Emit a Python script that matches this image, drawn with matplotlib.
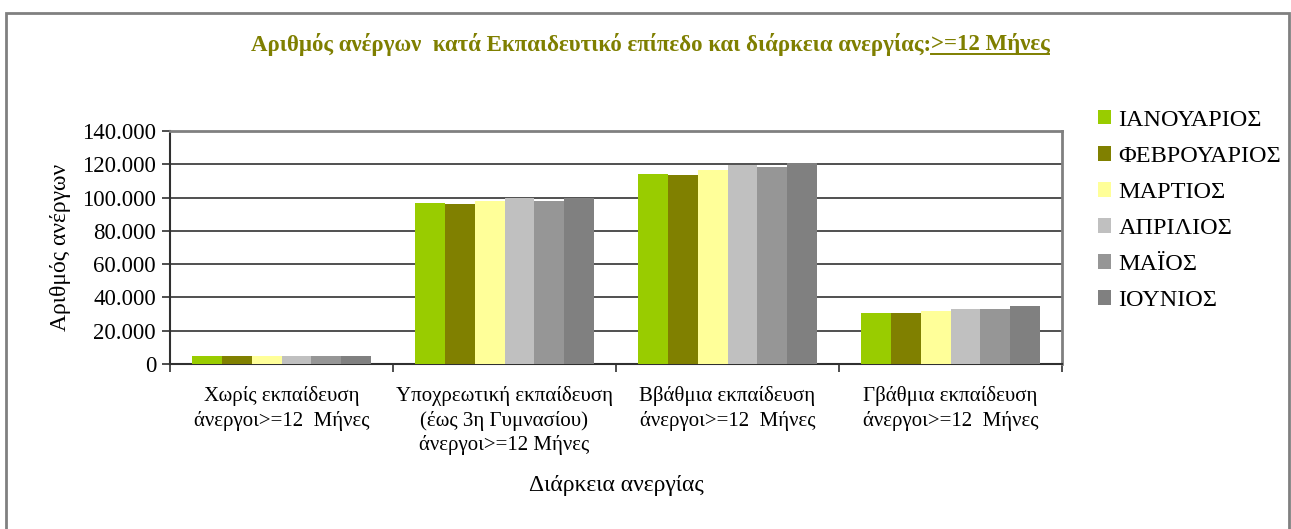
import numpy as np
import matplotlib
matplotlib.use('Agg')
import matplotlib.pyplot as plt
from matplotlib.patches import Rectangle
from matplotlib.lines import Line2D

plt.rcParams['font.family'] = ['Liberation Serif', 'DejaVu Serif']

# data
categories = [
    'Χωρίς εκπαίδευση\nάνεργοι>=12  Μήνες',
    'Υποχρεωτική εκπαίδευση\n(έως 3η Γυμνασίου)\nάνεργοι>=12 Μήνες',
    'Ββάθμια εκπαίδευση\nάνεργοι>=12  Μήνες',
    'Γβάθμια εκπαίδευση\nάνεργοι>=12  Μήνες',
]
months = ['ΙΑΝΟΥΑΡΙΟΣ', 'ΦΕΒΡΟΥΑΡΙΟΣ', 'ΜΑΡΤΙΟΣ', 'ΑΠΡΙΛΙΟΣ', 'ΜΑΪΟΣ', 'ΙΟΥΝΙΟΣ']
ianouarios = [5000, 96700, 114000, 30800]
fevrouarios = [5000, 96100, 113400, 30800]
martios = [5000, 97900, 116400, 32000]
aprilios = [5000, 99500, 119600, 33200]
maios = [5000, 97900, 118200, 33200]
iounios = [5000, 100000, 121000, 35000]
colors = ['#99CC00', '#808000', '#FFFF99', '#C0C0C0', '#969696', '#808080']
yticks = [0, 20000, 40000, 60000, 80000, 100000, 120000, 140000]
ytick_labels = ['0', '20.000', '40.000', '60.000', '80.000', '100.000', '120.000', '140.000']

series = [ianouarios, fevrouarios, martios, aprilios, maios, iounios]

W, H = 1291, 529
fig = plt.figure(figsize=(W / 100, H / 100), dpi=100)
fig.patch.set_facecolor('white')

# outer frame
fig.add_artist(Rectangle((6 / W, -0.01), 1283 / W, 1 - 13 / H + 0.01,
                         transform=fig.transFigure, fill=False,
                         edgecolor='#808080', lw=2))

ax = fig.add_axes([170 / W, 1 - 364 / H, 892 / W, 233 / H])

x = np.arange(len(categories))
bw = 0.8 / len(series)
for i, (vals, name) in enumerate(zip(series, months)):
    ax.bar(x - 0.4 + bw * (i + 0.5), vals, width=bw, color=colors[i],
           label=name, zorder=3)

ax.set_xlim(-0.5, len(categories) - 0.5)
ax.set_ylim(0, 140000)
ax.set_yticks(yticks)
ax.set_yticklabels(ytick_labels, fontsize=16.5)
ax.yaxis.grid(True, color='#202020', lw=1.1, zorder=1)
ax.set_axisbelow(True)

ax.set_xticks(x)
ax.set_xticklabels(categories, fontsize=15, linespacing=1.3)
ax.tick_params(axis='x', length=0, pad=16)
ax.tick_params(axis='y', length=6, width=1.2, color='#303030', pad=4)
ax.set_xticks(np.arange(len(categories) + 1) - 0.5, minor=True)
ax.tick_params(axis='x', which='minor', length=6, width=1.2, color='#303030')

for side in ['top', 'right']:
    ax.spines[side].set_color('#808080')
    ax.spines[side].set_linewidth(2)
for side in ['left', 'bottom']:
    ax.spines[side].set_color('#303030')
    ax.spines[side].set_linewidth(1.5)

ax.set_ylabel('Αριθμός ανέργων', fontsize=17, labelpad=8)
ax.set_xlabel('Διάρκεια ανεργίας', fontsize=17, labelpad=14)

leg = fig.legend(loc='upper left', bbox_to_anchor=(1088 / W, 1 - 100 / H),
                 frameon=False, fontsize=17.5, handlelength=0.55, handleheight=0.55,
                 handletextpad=0.3, labelspacing=0.62, borderaxespad=0)

# title with underlined tail
title_col = '#7F7F00'
fig.canvas.draw()
r = fig.canvas.get_renderer()
t1 = fig.text(0, 1 - 44 / H, 'Αριθμός ανέργων  κατά Εκπαιδευτικό επίπεδο και διάρκεια ανεργίας:',
              fontsize=16.5, fontweight='bold', color=title_col, va='center', ha='left')
t2 = fig.text(0, 1 - 44 / H, '>=12 Μήνες', fontsize=16.5, fontweight='bold',
              color=title_col, va='center', ha='left')
b1 = t1.get_window_extent(r)
b2 = t2.get_window_extent(r)
total = b1.width + b2.width
x0 = (650 - total / 2)
t1.set_x(x0 / W)
t2.set_x((x0 + b1.width) / W)
b2 = t2.get_window_extent(r)
uy = b2.y0 + 1
fig.add_artist(Line2D([b2.x0 / W, b2.x1 / W], [uy / H, uy / H],
                      transform=fig.transFigure, color=title_col, lw=1.4))

fig.savefig('out.png', dpi=100)
